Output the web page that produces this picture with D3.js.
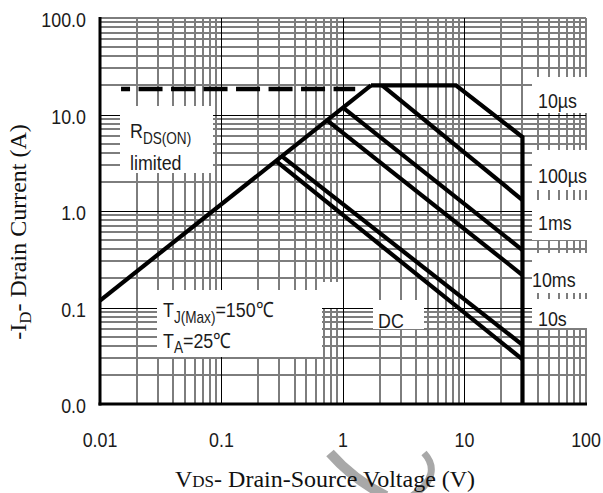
<!DOCTYPE html>
<html>
<head>
<meta charset="utf-8">
<script src="https://cdn.jsdelivr.net/npm/d3@7"></script>
<style>
  body { margin: 0; background: #fff; }
  .lbl { font-family: "Liberation Sans", Arial, sans-serif; font-size: 21px; fill: #1b1b1b; }
  .title { font-family: "Liberation Serif", "Times New Roman", serif; font-size: 24px; fill: #111; }
</style>
</head>
<body>
<svg id="chart" width="603" height="493"></svg>
<script>
const xDomain = [0.01, 100];
const yDomain = [0.01, 100];
const xTickValues = [0.01, 0.1, 1, 10, 100];
const xTickLabels = ['0.01', '0.1', '1', '10', '100'];
const yTickValues = [0.01, 0.1, 1, 10, 100];
const yTickLabels = ['0.0', '0.1', '1.0', '10.0', '100.0'];

// curves as [VDS (V), -ID (A)]
const rdsLimit = [[0.01, 0.118], [1.7, 20]];
const rdsDashed = [[0.0149, 18.4], [1.26, 18.4]];
const curve10us = [[1.7, 20], [8.5, 20], [30, 5.85], [30, 0.01]];
const curve100us = [[2.1, 20], [30, 1.3]];
const curve1ms = [[1.0, 11.8], [30, 0.394]];
const curve10ms = [[0.74, 8.7], [30, 0.217]];
const curve10s = [[0.313, 3.7], [30, 0.041]];
const curveDC = [[0.28, 3.3], [30, 0.029]];
const curves = [rdsLimit, curve10us, curve100us, curve1ms, curve10ms, curve10s, curveDC];

const pulseLabels = ['10µs', '100µs', '1ms', '10ms', '10s'];

const svg = d3.select('#chart');
const x = d3.scaleLog().domain(xDomain).range([100, 586]);
const y = d3.scaleLog().domain(yDomain).range([404, 18]);

const isMajor = v => Math.abs(Math.log10(v) - Math.round(Math.log10(v))) < 1e-9;

// the original uses a narrow sans face, squeeze the regular one
const NARROW = 0.85;
function label(parent, px, py, anchor) {
  return parent.append('text')
    .attr('class', 'lbl')
    .attr('text-anchor', anchor || 'start')
    .attr('transform', `translate(${px},${py}) scale(${NARROW},1)`);
}

// white label backgrounds that hide the grid: [x, y, w, h, overMajor]
const boxes = [
  [120, 106, 93, 67, true],   // RDS(ON) limited
  [157, 290, 165, 67, true],  // TJ / TA
  [322, 282, 51, 26, false],  // above DC
  [373, 300, 51, 29, true],   // DC
  [532, 77, 70, 36, true],    // 10us
  [532, 150, 70, 40, true],   // 100us
  [532, 200, 70, 40, true],   // 1ms
  [532, 253, 70, 40, true],   // 10ms
  [532, 299, 70, 29, true],   // 10s
];

function drawBoxes(over) {
  svg.append('g')
    .selectAll('rect')
      .data(boxes.filter(b => b[4] === over))
      .enter()
      .append('rect')
        .attr('x', b => b[0])
        .attr('y', b => b[1])
        .attr('width', b => b[2])
        .attr('height', b => b[3])
        .attr('fill', '#fff');
}

// minor grid (also top and right edges)
const minor = svg.append('g').attr('stroke', '#7d7d7d').attr('stroke-width', 2);
minor.selectAll('.gx')
  .data(x.ticks().filter(v => !isMajor(v) || v === 100))
  .enter()
  .append('line')
    .attr('x1', v => Math.round(x(v))).attr('x2', v => Math.round(x(v)))
    .attr('y1', y(100)).attr('y2', y(0.01));
minor.selectAll('.gy')
  .data(y.ticks().filter(v => !isMajor(v) || v === 100))
  .enter()
  .append('line')
    .attr('x1', x(0.01)).attr('x2', x(100))
    .attr('y1', v => Math.round(y(v))).attr('y2', v => Math.round(y(v)));

drawBoxes(false);

// decade lines
const major = svg.append('g').attr('stroke', '#000').attr('stroke-width', 1);
major.selectAll('.mx')
  .data(x.ticks().filter(v => isMajor(v) && v > 0.01 && v < 100))
  .enter()
  .append('line')
    .attr('x1', v => Math.round(x(v)) + 0.5).attr('x2', v => Math.round(x(v)) + 0.5)
    .attr('y1', y(100)).attr('y2', y(0.01));
major.selectAll('.my')
  .data(y.ticks().filter(v => isMajor(v) && v > 0.01 && v < 100))
  .enter()
  .append('line')
    .attr('x1', x(0.01)).attr('x2', x(100))
    .attr('y1', v => Math.round(y(v)) + 0.5).attr('y2', v => Math.round(y(v)) + 0.5);

drawBoxes(true);

// axes frame
svg.append('line')
  .attr('x1', x(0.01)).attr('x2', x(0.01))
  .attr('y1', y(100) - 1).attr('y2', y(0.01) + 1.5)
  .attr('stroke', '#000').attr('stroke-width', 3);
svg.append('line')
  .attr('x1', x(0.01) - 1.5).attr('x2', x(100) + 1)
  .attr('y1', y(0.01)).attr('y2', y(0.01))
  .attr('stroke', '#000').attr('stroke-width', 3);

// SOA curves
const line = d3.line().x(d => x(d[0])).y(d => y(d[1]));
svg.append('g')
  .selectAll('path')
    .data(curves)
    .enter()
    .append('path')
      .attr('d', line)
      .attr('fill', 'none')
      .attr('stroke', '#000')
      .attr('stroke-width', 4.2)
      .attr('stroke-linejoin', 'miter');
svg.append('path')
  .attr('d', line(rdsDashed))
  .attr('fill', 'none')
  .attr('stroke', '#000')
  .attr('stroke-width', 4.5)
  .attr('stroke-dasharray', '24,8.5')
  .attr('stroke-dashoffset', 15);

// tick labels
const yTicks = svg.append('g');
yTickValues.forEach((v, i) => label(yTicks, 86, y(v) + 9, 'end').text(yTickLabels[i]));
const xTicks = svg.append('g');
xTickValues.forEach((v, i) => label(xTicks, x(v), 447, 'middle').text(xTickLabels[i]));

// pulse labels on the right
const pulseLabelPos = [[538, 108], [538, 183], [538, 230], [532, 287], [538, 326]];
const pulses = svg.append('g');
pulseLabels.forEach((d, i) => label(pulses, pulseLabelPos[i][0], pulseLabelPos[i][1]).text(d));

label(svg, 378, 328).text('DC');

const rds = label(svg, 130, 138);
rds.append('tspan').text('R');
rds.append('tspan').attr('font-size', 16).attr('dy', 6).text('DS(ON)');
label(svg, 130, 170).text('limited');

const tj = label(svg, 163, 317);
tj.append('tspan').text('T');
tj.append('tspan').attr('font-size', 16).attr('dy', 6).text('J(Max)');
tj.append('tspan').attr('dy', -6).text('=150℃');
const ta = label(svg, 163, 348);
ta.append('tspan').text('T');
ta.append('tspan').attr('font-size', 16).attr('dy', 5).text('A');
ta.append('tspan').attr('dy', -5).text('=25℃');

// faint watermark arc behind the x title
const mark = svg.append('g').attr('fill', 'none').attr('stroke', '#a8a8a8');
mark.append('path').attr('d', 'M330,453 C345,470 362,484 386,496').attr('stroke-width', 10);
mark.append('path').attr('d', 'M424,453 C436,466 434,482 412,496').attr('stroke-width', 7);

// axis titles
const xt = svg.append('text').attr('class', 'title').attr('x', 175).attr('y', 487);
xt.append('tspan').text('V');
xt.append('tspan').attr('font-size', 17).text('DS');
xt.append('tspan').text('- Drain-Source Voltage (V)');

const yt = svg.append('text').attr('class', 'title')
  .attr('transform', 'translate(26,232) rotate(-90)')
  .attr('text-anchor', 'middle');
yt.append('tspan').text('-I');
yt.append('tspan').attr('font-size', 17).attr('dy', 5).text('D');
yt.append('tspan').attr('dy', -5).text('- Drain Current (A)');
</script>
</body>
</html>
